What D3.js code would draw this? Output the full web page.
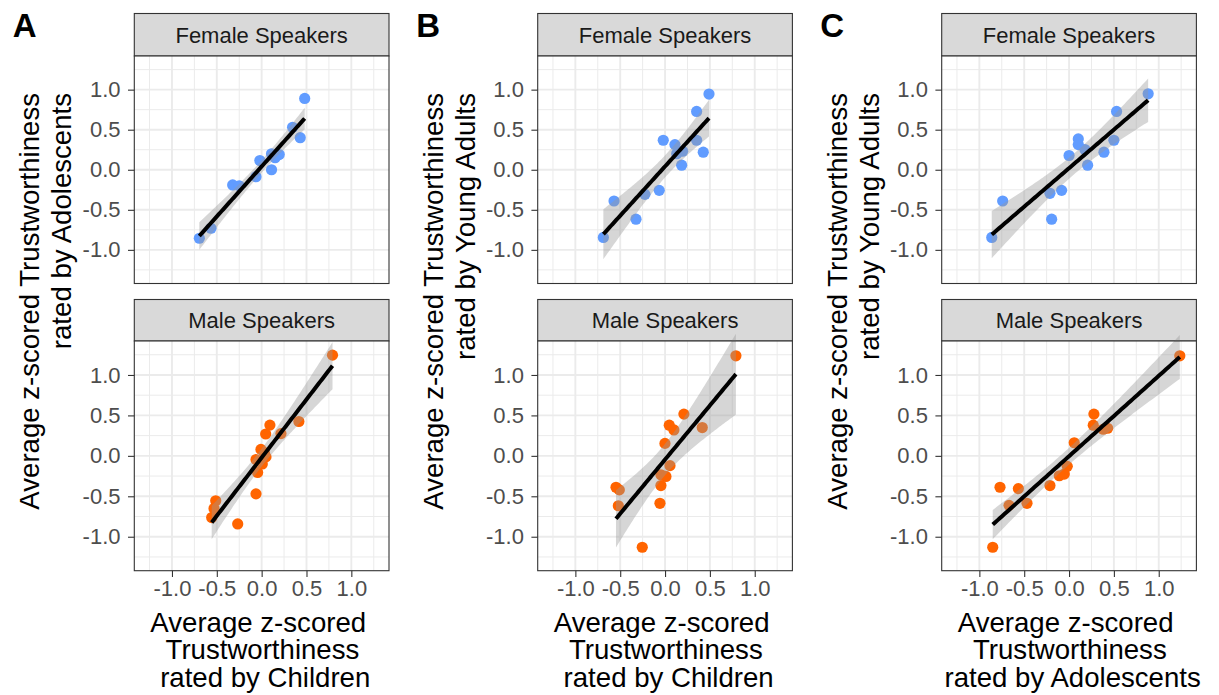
<!DOCTYPE html>
<html><head><meta charset="utf-8">
<script src="https://cdn.jsdelivr.net/npm/d3@7"></script>
<style>body{margin:0;background:#fff}svg{display:block}text{font-family:"Liberation Sans",Arial,sans-serif}</style>
</head><body><svg id="c" width="1219" height="695"></svg>
<script>
// ---- data ----
const panelLetters = ["A", "B", "C"];
const facetLabels = ["Female Speakers", "Male Speakers"];
const tickValues = [-1.0, -0.5, 0.0, 0.5, 1.0];
const tickLabels = ["-1.0", "-0.5", "0.0", "0.5", "1.0"];
const xTitles = [
  ["Average z-scored", "Trustworthiness", "rated by Children"],
  ["Average z-scored", "Trustworthiness", "rated by Children"],
  ["Average z-scored", "Trustworthiness", "rated by Adolescents"]
];
const yTitles = [
  ["Average z-scored Trustworthiness", "rated by Adolescents"],
  ["Average z-scored Trustworthiness", "rated by Young Adults"],
  ["Average z-scored Trustworthiness", "rated by Young Adults"]
];
// [x, y] pairs
const aFemale = [[0.48,0.89],[0.345,0.53],[0.43,0.40],[0.196,0.19],[0.11,0.20],[0.15,0.15],[-0.02,0.115],[0.11,0.0],[-0.063,-0.087],[-0.323,-0.19],[-0.25,-0.20],[-0.565,-0.73],[-0.695,-0.855]];
const aMale = [[0.79,1.245],[0.415,0.425],[0.092,0.38],[0.045,0.27],[0.215,0.275],[-0.008,0.08],[0.03,0.04],[0.048,-0.013],[-0.063,-0.046],[0.007,-0.10],[-0.045,-0.205],[-0.063,-0.47],[-0.512,-0.555],[-0.531,-0.65],[-0.557,-0.763],[-0.267,-0.842]];
const bFemale = [[0.49,0.945],[0.352,0.728],[-0.02,0.368],[0.11,0.314],[0.352,0.368],[0.196,0.231],[0.13,0.2],[0.426,0.219],[0.185,0.057],[-0.065,-0.257],[-0.224,-0.307],[-0.569,-0.39],[-0.324,-0.617],[-0.688,-0.845]];
const bMale = [[0.79,1.237],[0.21,0.516],[0.047,0.379],[0.099,0.32],[0.415,0.35],[-0.001,0.154],[0.055,-0.121],[-0.046,-0.234],[0.01,-0.255],[-0.046,-0.367],[-0.057,-0.587],[-0.547,-0.388],[-0.51,-0.421],[-0.521,-0.617],[-0.254,-1.13]];
const cFemale = [[0.882,0.948],[0.53,0.728],[0.103,0.385],[0.103,0.314],[0.5,0.368],[0.177,0.252],[0.389,0.219],[0.207,0.057],[0.0,0.178],[-0.083,-0.257],[-0.213,-0.294],[-0.74,-0.39],[-0.194,-0.617],[-0.862,-0.845]];
const cMale = [[1.235,1.237],[0.277,0.516],[0.27,0.379],[0.381,0.329],[0.43,0.341],[0.058,0.162],[-0.02,-0.13],[-0.053,-0.225],[-0.109,-0.246],[-0.213,-0.367],[-0.77,-0.388],[-0.565,-0.405],[-0.669,-0.612],[-0.469,-0.587],[-0.851,-1.13]];
const panelData = [[aFemale, aMale], [bFemale, bMale], [cFemale, cMale]];
const seriesColors = ["#619CFF", "#FF6400"];

// ---- layout ----
const svg = d3.select("#c");
const colLeft = [134.3, 537.7, 941.7];
const panelW = 254.7;
const rows = [{stripTop: 13.5, top: 56, bottom: 283.5}, {stripTop: 299.5, top: 341, bottom: 570.7}];
const dom = [-1.42, 1.42];
const minorVals = [-1.25, -0.75, -0.25, 0.25, 0.75, 1.25];
const tTable = {12: 2.179, 13: 2.160, 14: 2.145, 15: 2.131, 16: 2.120};

function fit(pts) {
  const n = pts.length;
  const mx = d3.mean(pts, d => d[0]), my = d3.mean(pts, d => d[1]);
  let sxx = 0, sxy = 0;
  pts.forEach(d => { sxx += (d[0]-mx)**2; sxy += (d[0]-mx)*(d[1]-my); });
  const b = sxy / sxx, a = my - b*mx;
  let sse = 0; pts.forEach(d => { sse += (d[1] - a - b*d[0])**2; });
  const s = Math.sqrt(sse / (n-2));
  const t = tTable[n-2] || 2.1;
  const [x0, x1] = d3.extent(pts, d => d[0]);
  const xs = d3.range(0, 81).map(i => x0 + (x1-x0)*i/80);
  return xs.map(x => {
    const yh = a + b*x;
    const se = s*Math.sqrt(1/n + (x-mx)**2/sxx);
    return {x, y: yh, lo: yh - t*se, hi: yh + t*se};
  });
}

panelData.forEach((col, ci) => {
  const L = colLeft[ci], R = L + panelW;
  const x = d3.scaleLinear().domain(dom).range([L, R]);
  // panel letter
  svg.append("text").attr("x", L - 121.5).attr("y", 37.3).attr("font-size", 33).attr("font-weight", "bold").attr("fill", "#000").text(panelLetters[ci]);
  col.forEach((pts, ri) => {
    const r = rows[ri];
    const y = d3.scaleLinear().domain(dom).range([r.bottom, r.top]);
    const g = svg.append("g");
    // strip
    g.append("rect").attr("x", L).attr("y", r.stripTop).attr("width", panelW).attr("height", r.top - r.stripTop)
      .attr("fill", "#D9D9D9").attr("stroke", "#333333").attr("stroke-width", 1.1);
    g.append("text").attr("x", (L+R)/2).attr("y", (r.stripTop + r.top)/2 + 7.8).attr("text-anchor", "middle")
      .attr("font-size", 22).attr("fill", "#1A1A1A").text(facetLabels[ri]);
    // background + grid
    g.append("rect").attr("x", L).attr("y", r.top).attr("width", panelW).attr("height", r.bottom - r.top).attr("fill", "#fff");
    minorVals.forEach(v => {
      g.append("line").attr("x1", x(v)).attr("x2", x(v)).attr("y1", r.top).attr("y2", r.bottom).attr("stroke", "#EBEBEB").attr("stroke-width", 1);
      g.append("line").attr("y1", y(v)).attr("y2", y(v)).attr("x1", L).attr("x2", R).attr("stroke", "#EBEBEB").attr("stroke-width", 1);
    });
    tickValues.forEach(v => {
      g.append("line").attr("x1", x(v)).attr("x2", x(v)).attr("y1", r.top).attr("y2", r.bottom).attr("stroke", "#EBEBEB").attr("stroke-width", 1.9);
      g.append("line").attr("y1", y(v)).attr("y2", y(v)).attr("x1", L).attr("x2", R).attr("stroke", "#EBEBEB").attr("stroke-width", 1.9);
    });
    // points
    g.selectAll("circle").data(pts).join("circle")
      .attr("cx", d => x(d[0])).attr("cy", d => y(d[1])).attr("r", 5.6).attr("fill", seriesColors[ri]);
    // smooth
    const f = fit(pts);
    g.append("path").datum(f).attr("d", d3.area().x(d => x(d.x)).y0(d => y(d.lo)).y1(d => y(d.hi)))
      .attr("fill", "#999999").attr("fill-opacity", 0.4);
    g.append("path").datum(f).attr("d", d3.line().x(d => x(d.x)).y(d => y(d.y)))
      .attr("fill", "none").attr("stroke", "#000").attr("stroke-width", 4);
    // border
    g.append("rect").attr("x", L).attr("y", r.top).attr("width", panelW).attr("height", r.bottom - r.top)
      .attr("fill", "none").attr("stroke", "#333333").attr("stroke-width", 1.1);
    // y axis
    const ya = d3.axisLeft(y).tickValues(tickValues).tickFormat((d, i) => tickLabels[i]).tickSize(6.3).tickPadding(7.5);
    const yg = g.append("g").attr("transform", `translate(${L},0)`).call(ya);
    yg.select(".domain").remove();
    yg.selectAll("line").attr("stroke", "#333333").attr("stroke-width", 1.1);
    yg.selectAll("text").attr("font-size", 22).attr("fill", "#4D4D4D").attr("font-family", '"Liberation Sans",Arial,sans-serif');
    if (ri === 1) {
      const xa = d3.axisBottom(x).tickValues(tickValues).tickFormat((d, i) => tickLabels[i]).tickSize(6.3).tickPadding(3);
      const xg = g.append("g").attr("transform", `translate(0,${r.bottom})`).call(xa);
      xg.select(".domain").remove();
      xg.selectAll("line").attr("stroke", "#333333").attr("stroke-width", 1.1);
      xg.selectAll("text").attr("font-size", 22).attr("fill", "#4D4D4D").attr("font-family", '"Liberation Sans",Arial,sans-serif');
    }
  });
  // x title (one text block, three lines)
  const cx = (L + R) / 2;
  const xOff = [-3.4, 0.8, 3.6];
  const xt = svg.append("text").attr("text-anchor", "middle").attr("font-size", 27.6).attr("fill", "#000");
  xTitles[ci].forEach((t, i) => {
    xt.append("tspan").attr("x", cx + xOff[i]).attr("y", 631.7 + i*27.6).text(t);
  });
  // y title (one text block, two lines, top-aligned)
  const yt = svg.append("text").attr("transform", `translate(${L - 95},93) rotate(-90)`).attr("text-anchor", "end")
    .attr("font-size", 27.6).attr("fill", "#000");
  yTitles[ci].forEach((t, i) => {
    yt.append("tspan").attr("x", 0).attr("y", i*32).text(t);
  });
});
</script></body></html>
